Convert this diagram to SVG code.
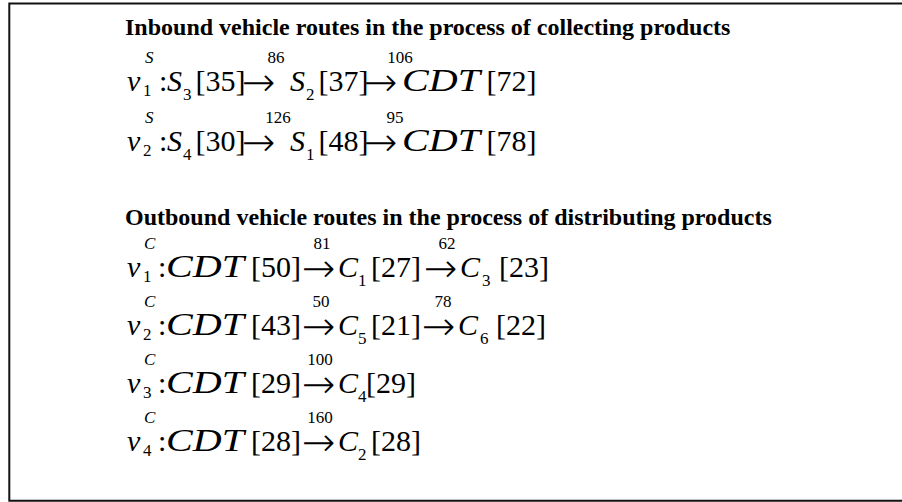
<svg xmlns="http://www.w3.org/2000/svg" width="902" height="502" viewBox="0 0 902 502">
  <style>
    .title { font-family: "Liberation Serif", "Times New Roman", serif; font-weight: bold; font-size: 24px; fill: #000; }
    .m { font-family: "Liberation Serif", "Times New Roman", serif; font-size: 30px; fill: #000; }
    .i { font-style: italic; }
    .cdt { font-family: "Liberation Serif", "Times New Roman", serif; font-style: italic; font-size: 31px; fill: #000; }
    .s { font-family: "Liberation Serif", "Times New Roman", serif; font-size: 17px; fill: #000; }
    .lbl { font-family: "Liberation Serif", "Times New Roman", serif; font-size: 17px; fill: #000; text-anchor: middle; }
    .arr { font-family: "DejaVu Sans", sans-serif; font-weight: 200; font-size: 40px; fill: #000; }
  </style>
  <rect x="0" y="0" width="902" height="502" fill="#fff"/>
  <!-- frame -->
  <path d="M 903 3.5 H 9.3 V 500.7 H 903" fill="none" stroke="#111" stroke-width="2"/>

  <text class="title" x="125" y="35">Inbound vehicle routes in the process of collecting products</text>

  <!-- inbound route 1 -->
  <g id="route-v1S">
    <text class="m i" x="127" y="91">v</text>
    <text class="s i" x="145" y="63">S</text>
    <text class="s" x="143" y="96">1</text>
    <text class="m" x="159" y="91">:</text>
    <text class="m i" x="167" y="91">S</text>
    <text class="s" x="183" y="100">3</text>
    <text class="m" x="195.5" y="91">[35]</text>
    <text class="arr" x="242" y="96">→</text>
    <text class="lbl" x="276" y="63">86</text>
    <text class="m i" x="290" y="91">S</text>
    <text class="s" x="306" y="100">2</text>
    <text class="m" x="318.5" y="91">[37]</text>
    <text class="arr" x="364" y="96">→</text>
    <text class="lbl" x="400" y="63">106</text>
    <text class="cdt" x="402" y="91" textLength="78" lengthAdjust="spacingAndGlyphs">CDT</text>
    <text class="m" x="486.5" y="91">[72]</text>
  </g>

  <!-- inbound route 2 -->
  <g id="route-v2S">
    <text class="m i" x="127" y="151">v</text>
    <text class="s i" x="145" y="123">S</text>
    <text class="s" x="143" y="156">2</text>
    <text class="m" x="159" y="151">:</text>
    <text class="m i" x="167" y="151">S</text>
    <text class="s" x="183" y="160">4</text>
    <text class="m" x="195.5" y="151">[30]</text>
    <text class="arr" x="242" y="156">→</text>
    <text class="lbl" x="278" y="123">126</text>
    <text class="m i" x="290" y="151">S</text>
    <text class="s" x="306" y="160">1</text>
    <text class="m" x="318.5" y="151">[48]</text>
    <text class="arr" x="364" y="156">→</text>
    <text class="lbl" x="395" y="123">95</text>
    <text class="cdt" x="402" y="151" textLength="78" lengthAdjust="spacingAndGlyphs">CDT</text>
    <text class="m" x="486.5" y="151">[78]</text>
  </g>

  <text class="title" x="125" y="225">Outbound vehicle routes in the process of distributing products</text>

  <!-- outbound route 1 -->
  <g id="route-v1C">
    <text class="m i" x="127" y="277">v</text>
    <text class="s i" x="144" y="249">C</text>
    <text class="s" x="143" y="282">1</text>
    <text class="m" x="158" y="277">:</text>
    <text class="cdt" x="166" y="277" textLength="78" lengthAdjust="spacingAndGlyphs">CDT</text>
    <text class="m" x="251" y="277">[50]</text>
    <text class="arr" x="302" y="282">→</text>
    <text class="lbl" x="322" y="249">81</text>
    <text class="m i" x="338" y="277">C</text>
    <text class="s" x="358" y="286">1</text>
    <text class="m" x="371" y="277">[27]</text>
    <text class="arr" x="424" y="282">→</text>
    <text class="lbl" x="447" y="249">62</text>
    <text class="m i" x="460" y="277">C</text>
    <text class="s" x="482" y="286">3</text>
    <text class="m" x="499" y="277">[23]</text>
  </g>

  <!-- outbound route 2 -->
  <g id="route-v2C">
    <text class="m i" x="127" y="335">v</text>
    <text class="s i" x="144" y="307">C</text>
    <text class="s" x="143" y="340">2</text>
    <text class="m" x="158" y="335">:</text>
    <text class="cdt" x="166" y="335" textLength="78" lengthAdjust="spacingAndGlyphs">CDT</text>
    <text class="m" x="251" y="335">[43]</text>
    <text class="arr" x="302" y="340">→</text>
    <text class="lbl" x="321" y="307">50</text>
    <text class="m i" x="338" y="335">C</text>
    <text class="s" x="358" y="344">5</text>
    <text class="m" x="371" y="335">[21]</text>
    <text class="arr" x="422" y="340">→</text>
    <text class="lbl" x="443" y="307">78</text>
    <text class="m i" x="458" y="335">C</text>
    <text class="s" x="480" y="344">6</text>
    <text class="m" x="496" y="335">[22]</text>
  </g>

  <!-- outbound route 3 -->
  <g id="route-v3C">
    <text class="m i" x="127" y="393">v</text>
    <text class="s i" x="144" y="365">C</text>
    <text class="s" x="143" y="398">3</text>
    <text class="m" x="158" y="393">:</text>
    <text class="cdt" x="166" y="393" textLength="78" lengthAdjust="spacingAndGlyphs">CDT</text>
    <text class="m" x="251" y="393">[29]</text>
    <text class="arr" x="302" y="398">→</text>
    <text class="lbl" x="320" y="365">100</text>
    <text class="m i" x="338" y="393">C</text>
    <text class="s" x="358" y="402">4</text>
    <text class="m" x="366" y="393">[29]</text>
  </g>

  <!-- outbound route 4 -->
  <g id="route-v4C">
    <text class="m i" x="127" y="451">v</text>
    <text class="s i" x="144" y="423">C</text>
    <text class="s" x="143" y="456">4</text>
    <text class="m" x="158" y="451">:</text>
    <text class="cdt" x="166" y="451" textLength="78" lengthAdjust="spacingAndGlyphs">CDT</text>
    <text class="m" x="251" y="451">[28]</text>
    <text class="arr" x="302" y="456">→</text>
    <text class="lbl" x="320" y="423">160</text>
    <text class="m i" x="338" y="451">C</text>
    <text class="s" x="358" y="460">2</text>
    <text class="m" x="371" y="451">[28]</text>
  </g>
</svg>
